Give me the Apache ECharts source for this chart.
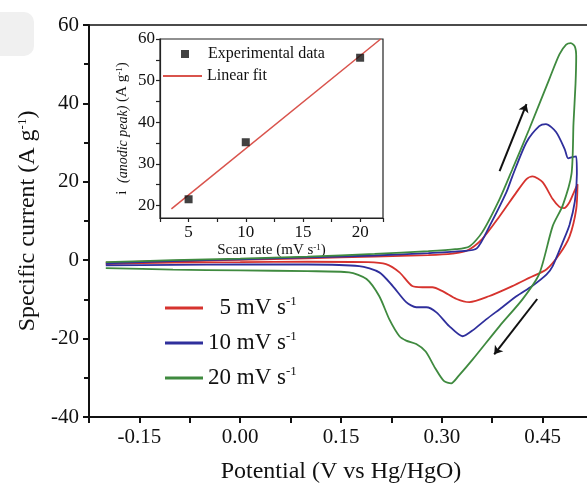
<!DOCTYPE html>
<html><head><meta charset="utf-8">
<script src="https://cdn.jsdelivr.net/npm/echarts@6/dist/echarts.min.js"></script>
<style>html,body{margin:0;padding:0;background:#fff}#c{width:587px;height:489px}</style>
</head><body><div id="c"></div>
<script>
// ---- main CV data (Potential V vs Hg/HgO, Specific current A/g) ----
const seriesNames = ['5 mV s-1', '10 mV s-1', '20 mV s-1'];
const red_potential = [-0.2,-0.1,0,0.1,0.2,0.28,0.316,0.337,0.36,0.386,0.411,0.426,0.435,0.45,0.465,0.475,0.482,0.49,0.497,0.502,0.5,0.49,0.475,0.456,0.43,0.405,0.37,0.341,0.322,0.301,0.286,0.271,0.256,0.237,0.217,0.19,0.1,0,-0.1,-0.2];
const red_current   = [-0.6,-0.2,0.1,0.5,0.9,1.3,1.7,2.4,5.4,11.2,17.3,20.7,21.4,19.9,15.6,13.6,13.3,14.8,17.5,19.4,13,6,1.5,-2.3,-4.5,-6.6,-9.2,-10.7,-9.9,-7.9,-6.9,-6.9,-6.6,-3.1,-1.0,-0.5,-0.4,-0.5,-0.6,-1.0];
const blue_potential = [-0.2,-0.1,0,0.1,0.2,0.28,0.33,0.352,0.371,0.396,0.405,0.426,0.445,0.455,0.47,0.483,0.488,0.494,0.5,0.501,0.498,0.49,0.48,0.465,0.456,0.435,0.411,0.39,0.366,0.345,0.331,0.311,0.292,0.277,0.262,0.247,0.227,0.207,0.177,0.1,0,-0.1,-0.2];
const blue_current   = [-0.8,-0.2,0.2,0.7,1.2,1.8,2.3,3.0,8.7,17.3,21.4,30.1,34.2,34.7,32.7,28.3,26.0,26.3,26.5,22,15,9,4.6,-1.5,-3.6,-6.5,-9.2,-12,-15.1,-18,-19.4,-16.8,-13.3,-12,-12,-10.7,-6.6,-3.1,-1.5,-1.1,-1.1,-1.2,-1.3];
const green_potential = [-0.2,-0.1,0,0.1,0.2,0.28,0.32,0.341,0.36,0.386,0.405,0.43,0.46,0.475,0.485,0.492,0.498,0.5,0.499,0.496,0.493,0.48,0.465,0.445,0.42,0.386,0.346,0.325,0.314,0.303,0.29,0.276,0.262,0.247,0.237,0.222,0.207,0.188,0.162,0.1,0,-0.1,-0.2];
const green_current   = [-0.5,0,0.4,0.9,1.6,2.3,2.8,3.5,7.1,15.6,23.2,33.4,46.2,52.5,55.0,55.4,54.5,52,45,35,22,14,8.7,-3.5,-10,-16.8,-25.3,-29.5,-31.4,-30.8,-27.5,-23.3,-21.4,-20.5,-19.4,-15.1,-9.2,-4.8,-3.1,-2.8,-2.6,-2.4,-2.0];
// ---- inset data ----
const inset_scanRate = [5, 10, 20];
const inset_peakCurrent = [21.5, 35.2, 55.5];
const fit_scanRate = [3.5, 21.8];
const fit_peakCurrent = [19.2, 60.0];
// ---- annotation arrows (data coords) ----
const arrowUp = [[0.386, 22.7], [0.426, 39.8]];
const arrowDown = [[0.442, -9.9], [0.378, -24.0]];
// ---- tick labels ----
const xTickLabels = ['-0.15', '0.00', '0.15', '0.30', '0.45'];
const yTickLabels = ['-40', '-20', '0', '20', '40', '60'];
const insetXTickLabels = ['5', '10', '15', '20'];
const insetYTickLabels = ['20', '30', '40', '50', '60'];

const colors = ['#d6332e', '#2f2f9c', '#3f8a3f'];
const FF = "'Liberation Serif','Times New Roman',serif";
const zip = (a, b) => a.map((v, i) => [v, b[i]]);

const chart = echarts.init(document.getElementById('c'), null, {renderer: 'canvas'});
const supRich = {sup: {fontSize: 13, verticalAlign: 'top', fontFamily: FF, color: '#111'}};

const option = {
  animation: false,
  backgroundColor: '#fff',
  graphic: [{type: 'rect', shape: {x: -12, y: 12, width: 46, height: 44, r: 10}, style: {fill: '#f0f0f0'}, z: -10}],
  grid: [
    {left: 89, top: 25, width: 504, height: 392, show: true, borderColor: '#111', borderWidth: 1.5, containLabel: false, outerBoundsMode: 'none'},
    {left: 160, top: 39, width: 223, height: 179, show: true, borderColor: '#222', borderWidth: 1.2, outerBoundsMode: 'none'}
  ],
  xAxis: [
    {type: 'value', gridIndex: 0, min: -0.225, max: 0.525, interval: 0.075,
     name: 'Potential (V vs Hg/HgO)', nameLocation: 'middle', nameGap: 43,
     nameTextStyle: {fontFamily: FF, fontSize: 24, color: '#111'},
     axisLine: {show: true, onZero: false, lineStyle: {color: '#111', width: 2}},
     axisTick: {show: true, inside: false, length: 6, lineStyle: {color: '#111', width: 2}},
     splitLine: {show: false},
     axisLabel: {margin: 10, fontFamily: FF, fontSize: 21, color: '#111',
       formatter: v => { const s = v.toFixed(2); return xTickLabels.includes(s) ? s : ''; }}},
    {type: 'value', gridIndex: 1, min: 2.5, max: 22, interval: 2.5,
     name: 'Scan rate (mV s{sup|-1})', nameLocation: 'middle', nameGap: 25,
     nameTextStyle: {fontFamily: FF, fontSize: 15, color: '#111', rich: {sup: {fontSize: 9, verticalAlign: 'top', fontFamily: FF, color: '#111'}}},
     axisLine: {show: true, onZero: false, lineStyle: {color: '#222', width: 1.2}},
     axisTick: {show: true, length: 4, lineStyle: {color: '#222', width: 1.2}},
     splitLine: {show: false},
     axisLabel: {margin: 6, fontFamily: FF, fontSize: 17, color: '#111',
       formatter: v => { const s = String(Math.round(v * 10) / 10); return insetXTickLabels.includes(s) ? s : ''; }}}
  ],
  yAxis: [
    {type: 'value', gridIndex: 0, min: -40, max: 60, interval: 20,
     name: 'Specific current (A g{sup|-1})', nameLocation: 'middle', nameGap: 49, nameRotate: 90,
     nameTextStyle: {fontFamily: FF, fontSize: 24, color: '#111', rich: supRich},
     axisLine: {show: true, onZero: false, lineStyle: {color: '#111', width: 2}},
     axisTick: {show: true, length: 6, lineStyle: {color: '#111', width: 2}},
     minorTick: {show: true, splitNumber: 2, length: 5, lineStyle: {color: '#111', width: 2}},
     splitLine: {show: false},
     axisLabel: {margin: 10, fontFamily: FF, fontSize: 21, color: '#111',
       formatter: v => { const s = String(v); return yTickLabels.includes(s) ? s : ''; }}},
    {type: 'value', gridIndex: 1, min: 17, max: 60,
     name: 'i  {sub|(anodic peak)} (A g{sup|-1})', nameLocation: 'middle', nameGap: 30, nameRotate: 90,
     nameTextStyle: {fontFamily: FF, fontSize: 15, color: '#111',
       rich: {sub: {fontSize: 14, fontStyle: 'italic', fontFamily: FF, color: '#111', verticalAlign: 'bottom'},
              sup: {fontSize: 9, verticalAlign: 'top', fontFamily: FF, color: '#111'}}},
     axisLine: {show: true, onZero: false, lineStyle: {color: '#222', width: 1.2}},
     axisTick: {show: true, length: 4, customValues: [20, 25, 30, 35, 40, 45, 50, 55, 60], lineStyle: {color: '#222', width: 1.2}},
     splitLine: {show: false},
     axisLabel: {margin: 5, fontFamily: FF, fontSize: 17, color: '#111', customValues: insetYTickLabels.map(Number),
       formatter: v => String(v)}}
  ],
  legend: [
    {data: seriesNames, orient: 'vertical', left: 160, top: 290, itemGap: 9,
     icon: 'rect', itemWidth: 38, itemHeight: 3,
     textStyle: {fontFamily: FF, fontSize: 23, color: '#111', lineHeight: 26, rich: {sup: {fontSize: 13, verticalAlign: 'top', fontFamily: FF, color: '#111', lineHeight: 26}}},
     formatter: n => (n.startsWith('5 ') ? '  ' : '') + n.replace(/-1$/, '') + '{sup|-1}'},
    {data: ['Experimental data'], left: 176, top: 41, icon: 'rect', itemWidth: 8, itemHeight: 8, z: 10,
     textStyle: {fontFamily: FF, fontSize: 16, color: '#111', padding: [0, 0, 0, 14]}},
    {data: ['Linear fit'], left: 158, top: 63, icon: 'rect', itemWidth: 39, itemHeight: 2, z: 10,
     textStyle: {fontFamily: FF, fontSize: 16, color: '#111'}}
  ],
  series: [
    {name: seriesNames[0], type: 'line', xAxisIndex: 0, yAxisIndex: 0, data: zip(red_potential, red_current),
     smooth: 0.25, showSymbol: false, symbol: 'none', color: colors[0], lineStyle: {width: 1.8, color: colors[0]}},
    {name: seriesNames[1], type: 'line', xAxisIndex: 0, yAxisIndex: 0, data: zip(blue_potential, blue_current),
     smooth: 0.25, showSymbol: false, symbol: 'none', color: colors[1], lineStyle: {width: 1.8, color: colors[1]}},
    {name: seriesNames[2], type: 'line', xAxisIndex: 0, yAxisIndex: 0, data: zip(green_potential, green_current),
     smooth: 0.25, showSymbol: false, symbol: 'none', color: colors[2], lineStyle: {width: 1.8, color: colors[2]}},
    {name: 'arrows', type: 'lines', coordinateSystem: 'cartesian2d', xAxisIndex: 0, yAxisIndex: 0,
     symbol: ['none', 'arrow'], symbolSize: 8,
     lineStyle: {color: '#111', width: 2, opacity: 1},
     data: [{coords: arrowUp}, {coords: arrowDown}]},
    {name: 'Linear fit', type: 'line', xAxisIndex: 1, yAxisIndex: 1, data: zip(fit_scanRate, fit_peakCurrent),
     showSymbol: false, symbol: 'none', color: '#d9534c', lineStyle: {width: 1.5, color: '#d9534c'}, z: 6},
    {name: 'Experimental data', type: 'scatter', xAxisIndex: 1, yAxisIndex: 1, data: zip(inset_scanRate, inset_peakCurrent),
     symbol: 'rect', symbolSize: 8, color: '#111', itemStyle: {color: '#111'}, z: 7}
  ]
};
chart.setOption(option);
</script></body></html>
